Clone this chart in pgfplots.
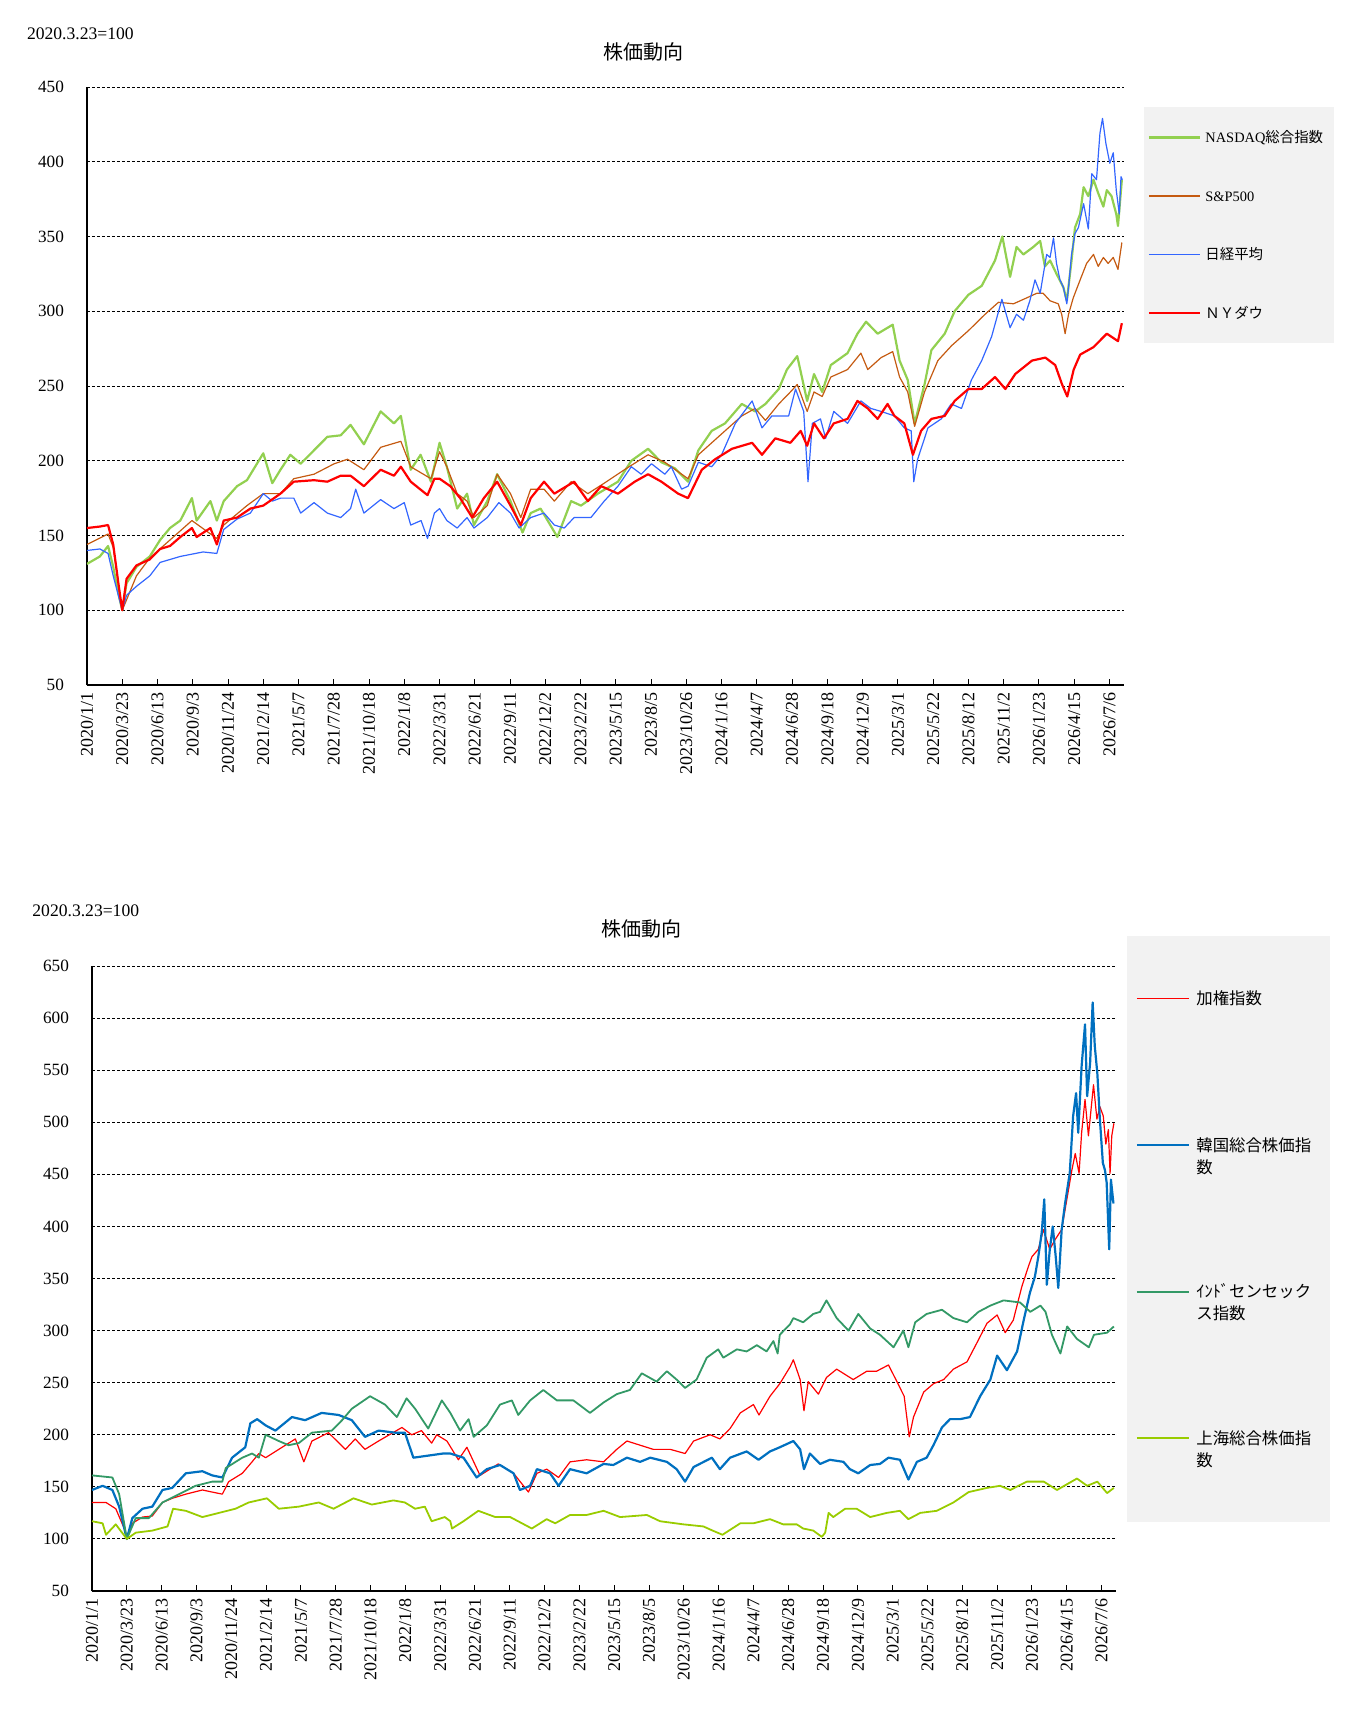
\documentclass[border=0pt]{standalone}
\usepackage{fontspec}
\setmainfont{Liberation Serif}
\newfontfamily\cjk{Noto Sans CJK JP}
\usepackage{pgfplots}
\pgfplotsset{compat=1.18}
\definecolor{cNas}{HTML}{92D050}
\definecolor{cSP}{HTML}{C55A11}
\definecolor{cNik}{HTML}{3366FF}
\definecolor{cDow}{HTML}{FF0000}
\definecolor{cTw}{HTML}{FF0000}
\definecolor{cKr}{HTML}{0070C0}
\definecolor{cIn}{HTML}{339966}
\definecolor{cSh}{HTML}{99CC00}
\definecolor{legbg}{HTML}{F2F2F2}
\pgfplotsset{
  stockax/.style={
    scale only axis,
    xmin=0, xmax=2412,
    enlargelimits=false,
    axis lines*=left,
    axis line style={-, black, line width=0.75pt},
    tick align=inside,
    major tick length=3pt,
    ytick style={draw=none},
    xtick style={black, line width=0.5pt},
    xtick={0,82,...,2378},
    xticklabels={2020/1/1,2020/3/23,2020/6/13,2020/9/3,2020/11/24,2021/2/14,2021/5/7,2021/7/28,2021/10/18,2022/1/8,2022/3/31,2022/6/21,2022/9/11,2022/12/2,2023/2/22,2023/5/15,2023/8/5,2023/10/26,2024/1/16,2024/4/7,2024/6/28,2024/9/18,2024/12/9,2025/3/1,2025/5/22,2025/8/12,2025/11/2,2026/1/23,2026/4/15,2026/7/6},
    xticklabel style={rotate=90, anchor=east, font=\fontsize{9}{10}\selectfont},
    yticklabel style={xshift=-8pt, font=\fontsize{8.6}{10}\selectfont},
    /pgf/number format/assume math mode=true,
    ymajorgrids,
    grid style={black, line width=0.5pt, dash pattern=on 1.5pt off 1pt},
    no markers,
    every axis plot/.append style={line join=round},
  }
}
\begin{document}
\begin{tikzpicture}[x=1pt,y=1pt]
\path[use as bounding box] (0,0) rectangle (679,-864.5);
\fill[legbg] (572,-53.5) rectangle (667,-171.5);
\fill[legbg] (563.5,-468) rectangle (665,-761);
\node[anchor=west, inner sep=0pt, font=\fontsize{8.8}{10}\selectfont] at (13.3,-17) {2020.3.23=100};
\node[inner sep=0pt, font=\cjk\fontsize{10}{12}\selectfont] at (321.5,-26) {株価動向};
\node[anchor=west, inner sep=0pt, font=\fontsize{8.8}{10}\selectfont] at (16,-455.3) {2020.3.23=100};
\node[inner sep=0pt, font=\cjk\fontsize{10}{12}\selectfont] at (320.5,-464.5) {株価動向};

% ---------------- top chart ----------------
\begin{axis}[stockax,
  at={(43.5pt,-342.5pt)}, anchor=south west,
  width=518.5pt, height=299pt,
  ymin=50, ymax=450, ytick={50,100,...,450},
  legend style={at={(1.0226,0.9372)}, anchor=north west, draw=none, fill=none,
    inner sep=0pt, row sep=16.7pt, column sep=0.2pt,
    font=\fontsize{7.2}{10}\selectfont,
    cells={anchor=base west, inner sep=0pt}},
  legend image code/.code={\draw[#1] (0pt,2.7pt) -- (25.5pt,2.7pt);},
]
\addplot[cNas, line width=1.1pt] coordinates {
(0,131)(30,136)(49,143)(61,129)(73,111)(82,100)(92,118)(115,129)(146,136)(170,147)(193,155)(217,160)(244,175)(255,160)(287,173)(302,160)(318,173)(349,183)(372,187)(410,205)(431,185)(450,194)(473,204)(497,198)(528,207)(559,216)(590,217)(613,224)(644,211)(683,233)(714,225)(730,230)(753,194)(776,204)(800,186)(820,212)
(837,196)(861,168)(884,178)(900,157)(931,173)(954,191)(985,173)(1013,152)(1032,165)(1055,168)(1094,149)(1126,173)(1149,170)(1188,178)(1235,186)(1266,200)(1305,208)(1336,199)(1367,195)(1398,186)(1422,207)(1453,220)(1484,225)(1523,238)(1554,233)(1578,238)(1609,248)
(1628,261)(1652,270)(1675,240)(1691,258)(1710,246)(1730,264)(1769,272)(1792,285)(1812,293)(1839,285)(1874,291)(1890,267)(1909,254)(1925,225)(1948,251)(1964,274)(1995,285)(2018,300)(2050,311)(2081,317)(2112,334)(2129,350)(2147,323)(2162,343)(2178,338)(2201,343)(2217,347)(2228,330)(2240,334)(2255,325)(2271,316)(2279,307)(2290,334)(2298,356)(2310,365)(2318,383)(2329,377)(2341,388)(2352,379)(2364,370)(2372,381)(2383,377)(2394,365)(2398,357)(2407,388)
};
\addlegendentry{\strut NASDAQ{\cjk 総合指数}}
\addplot[cSP, line width=0.6pt] coordinates {
(0,144)(49,151)(61,142)(82,100)(115,123)(146,135)(193,147)(244,160)(302,148)(318,157)(372,170)(410,178)(450,178)(481,188)(528,191)(575,198)(606,201)(644,194)(683,209)(730,213)(753,196)(800,188)(820,206)
(837,196)(861,178)(884,173)(900,162)(931,170)(954,191)(985,178)(1009,162)(1032,181)(1063,181)(1087,173)(1126,186)(1165,178)(1203,185)(1250,194)(1305,204)(1344,199)(1398,188)(1422,204)(1453,212)(1484,220)(1523,230)(1554,235)(1578,227)(1609,238)(1636,246)
(1652,251)(1675,233)(1691,246)(1710,243)(1730,256)(1769,261)(1800,272)(1816,261)(1847,269)(1874,273)(1890,256)(1909,246)(1925,223)(1948,246)(1979,267)(2011,277)(2050,287)(2089,298)(2120,306)(2155,305)(2186,309)(2209,312)(2224,312)(2240,307)(2259,305)(2267,298)(2275,285)(2283,298)(2294,309)(2310,321)(2325,332)(2341,338)(2352,330)(2364,336)(2375,332)(2387,336)(2398,328)(2407,346)
};
\addlegendentry{\strut S\&P500}
\addplot[cNik, line width=0.6pt] coordinates {
(0,140)(30,141)(49,138)(61,123)(82,100)(92,110)(115,116)(146,123)(170,132)(217,136)(270,139)(302,138)(318,154)(349,161)(380,165)(410,178)(431,173)(450,175)(481,175)(497,165)(528,172)(559,165)(590,162)(613,168)(625,181)(644,165)(683,174)(714,168)(738,172)(753,157)(777,160)(792,148)(808,165)(820,168)
(837,160)(861,155)(884,162)(900,155)(931,162)(958,172)(985,165)(1005,155)(1032,162)(1063,165)(1087,157)(1110,155)(1133,162)(1172,162)(1203,173)(1235,183)(1266,196)(1289,191)(1313,198)(1344,191)(1359,196)(1383,181)(1398,183)(1422,199)(1453,196)(1476,204)(1508,225)(1547,240)(1570,222)(1593,230)(1632,230)
(1648,248)(1667,233)(1677,186)(1687,225)(1706,228)(1718,215)(1737,233)(1769,225)(1800,240)(1823,235)(1847,233)(1878,230)(1901,222)(1917,220)(1923,186)(1932,201)(1956,222)(1987,228)(2010,238)(2034,235)(2057,254)(2081,267)(2104,283)(2128,308)(2147,289)(2162,298)(2178,294)(2193,307)(2205,321)(2217,312)(2232,338)(2240,336)(2248,349)(2255,332)(2263,321)(2271,316)(2279,305)(2283,316)(2290,338)(2298,352)(2306,356)(2318,372)(2329,355)(2337,392)(2348,388)(2356,419)(2362,429)(2370,412)(2379,399)(2387,406)(2394,381)(2401,365)(2405,390)(2408,388)
};
\addlegendentry{\strut {\cjk 日経平均}}
\addplot[cDow, line width=1.1pt] coordinates {
(0,155)(30,156)(49,157)(61,144)(73,118)(82,100)(92,121)(115,130)(146,134)(170,141)(193,143)(217,149)(244,155)(255,149)(287,155)(302,144)(318,160)(349,162)(380,168)(410,170)(450,178)(481,186)(528,187)(559,186)(590,190)(613,190)(644,183)(683,194)(714,190)(730,196)(753,186)(792,177)(808,188)(820,188)
(845,183)(868,175)(896,162)(923,175)(954,186)(985,170)(1009,157)(1032,175)(1063,186)(1087,178)(1133,186)(1165,173)(1196,183)(1235,178)(1274,186)(1305,191)(1336,186)(1375,178)(1398,175)(1430,194)(1461,201)(1500,208)(1547,212)(1570,204)(1601,215)(1636,212)
(1660,220)(1675,210)(1691,225)(1714,215)(1737,225)(1769,228)(1792,240)(1816,235)(1839,228)(1862,238)(1878,230)(1901,225)(1921,204)(1940,220)(1964,228)(1995,230)(2018,240)(2050,248)(2081,248)(2112,256)(2136,248)(2159,258)(2198,267)(2229,269)(2252,264)(2268,251)(2280,243)(2295,261)(2310,271)(2341,276)(2372,285)(2398,280)(2407,292)
};
\addlegendentry{\strut {\cjk ＮＹダウ}}
\end{axis}

% ---------------- bottom chart ----------------
\begin{axis}[stockax,
  at={(46pt,-795.5pt)}, anchor=south west,
  width=512pt, height=312.5pt,
  ymin=50, ymax=650, ytick={50,100,...,650},
  legend style={at={(1.0189,0.9696)}, anchor=north west, draw=none, fill=none,
    inner sep=0pt, row sep=60pt, column sep=1.2pt,
    font=\cjk\fontsize{8.2}{11}\selectfont,
    cells={anchor=base west, inner sep=0pt}},
  legend image code/.code={\draw[#1] (0pt,3pt) -- (26pt,3pt);},
]
\addplot[cTw, line width=0.6pt] coordinates {
(0,135)(33,135)(56,129)(76,110)(82,100)(95,115)(119,121)(142,122)(166,135)(189,139)(221,143)(260,147)(283,145)(307,143)(322,155)(354,163)(377,174)(393,182)(409,178)(440,186)(479,196)(499,174)(518,194)(557,202)(597,186)(620,196)(643,186)(675,194)(730,207)(753,200)(776,204)(800,192)(812,200)(836,194)(863,176)(883,188)(914,161)(957,172)(993,163)(1028,145)(1048,163)(1071,167)(1099,159)(1126,174)(1165,176)(1205,174)(1236,186)(1260,194)(1291,190)(1322,186)(1362,186)(1397,182)(1417,194)(1456,200)(1479,196)(1503,206)(1527,221)(1558,229)(1571,219)(1597,237)(1620,249)(1644,265)(1652,272)(1668,253)(1677,223)(1687,251)(1711,239)(1730,255)(1754,263)(1793,253)(1825,261)(1848,261)(1876,267)(1896,251)(1913,237)(1925,198)(1935,217)(1959,241)(1982,249)(2006,253)(2029,263)(2061,270)(2084,288)(2108,307)(2132,315)(2151,298)(2170,310)(2190,342)(2206,362)(2214,371)(2229,378)(2241,397)(2256,378)(2268,387)(2284,397)(2292,416)(2300,435)(2308,454)(2316,470)(2325,451)(2331,490)(2339,522)(2347,487)(2359,536)(2367,503)(2374,515)(2382,506)(2388,479)(2394,493)(2398,451)(2402,487)(2407,499)
};
\addlegendentry{\vtop{\hbox{\strut 加権指数}\hbox{\strut}}}
\addplot[cKr, line width=1.1pt] coordinates {
(0,147)(25,151)(48,147)(64,131)(82,100)(95,120)(119,129)(142,131)(166,147)(189,149)(221,163)(260,165)(283,161)(307,159)(330,178)(361,188)(373,211)(389,215)(409,209)(432,204)(471,217)(502,214)(541,221)(581,219)(612,214)(643,198)(675,204)(714,202)(737,202)(757,178)(792,180)(827,182)(844,182)(875,178)(906,159)(930,167)(961,171)(993,163)(1008,147)(1032,151)(1048,167)(1079,163)(1099,151)(1126,167)(1165,163)(1205,172)(1228,171)(1260,178)(1291,174)(1315,178)(1354,174)(1377,167)(1397,155)(1417,169)(1460,178)(1479,167)(1503,178)(1542,184)(1570,176)(1597,184)(1620,188)(1652,194)(1668,186)(1677,167)(1691,182)(1715,172)(1738,176)(1770,174)(1785,167)(1805,163)(1833,171)(1856,172)(1876,178)(1903,176)(1923,157)(1943,174)(1966,178)(1982,190)(2002,207)(2021,215)(2045,215)(2068,217)(2092,237)(2116,253)(2132,276)(2155,262)(2179,280)(2194,309)(2209,336)(2221,352)(2229,371)(2237,394)(2243,426)(2249,344)(2256,378)(2263,400)(2270,371)(2276,341)(2284,397)(2292,422)(2303,451)(2311,506)(2318,528)(2323,490)(2331,554)(2339,594)(2344,525)(2351,557)(2357,615)(2362,573)(2368,547)(2374,503)(2381,461)(2386,454)(2390,442)(2396,378)(2400,445)(2406,422)
};
\addlegendentry{\vtop{\hbox{\strut 韓国総合株価指}\hbox{\strut 数}}}
\addplot[cIn, line width=0.9pt] coordinates {
(0,161)(48,159)(64,143)(82,100)(103,120)(134,120)(166,135)(205,143)(244,151)(283,155)(307,155)(315,168)(354,178)(377,182)(393,178)(409,200)(440,194)(463,190)(487,192)(518,202)(565,204)(589,214)(612,225)(655,237)(690,229)(718,217)(741,235)(761,225)(792,206)(824,233)(844,221)(867,204)(887,215)(899,198)(930,209)(961,229)(989,233)(1004,219)(1032,233)(1063,243)(1095,233)(1134,233)(1173,221)(1205,231)(1236,239)(1267,243)(1295,259)(1330,251)(1354,261)(1377,253)(1397,245)(1424,253)(1448,274)(1475,282)(1487,274)(1519,282)(1542,280)(1566,286)(1589,280)(1605,290)(1615,278)(1620,296)(1644,306)(1652,312)(1675,308)(1699,316)(1715,318)(1730,329)(1754,312)(1782,300)(1805,316)(1833,302)(1856,296)(1888,284)(1911,300)(1923,284)(1939,308)(1966,316)(2002,320)(2029,312)(2061,308)(2088,318)(2116,324)(2147,329)(2186,327)(2210,318)(2234,324)(2246,318)(2261,296)(2281,278)(2297,304)(2320,292)(2348,284)(2360,296)(2391,298)(2407,304)
};
\addlegendentry{\vtop{\hbox{\strut ｲﾝﾄﾞセンセック}\hbox{\strut ス指数}}}
\addplot[cSh, line width=0.9pt] coordinates {
(0,117)(25,115)(33,104)(56,114)(82,100)(103,106)(142,108)(178,112)(191,129)(221,127)(260,121)(299,125)(338,129)(369,135)(412,139)(440,129)(487,131)(534,135)(569,129)(616,139)(659,133)(710,137)(737,135)(761,129)(784,131)(800,117)(831,121)(844,117)(848,110)(875,117)(910,127)(950,121)(985,121)(1036,110)(1071,119)(1091,115)(1126,123)(1165,123)(1205,127)(1244,121)(1307,123)(1338,117)(1393,114)(1440,112)(1462,108)(1485,104)(1527,115)(1558,115)(1597,119)(1628,114)(1660,114)(1675,110)(1699,108)(1719,102)(1727,106)(1735,125)(1746,121)(1774,129)(1801,129)(1833,121)(1872,125)(1903,127)(1923,119)(1951,125)(1990,127)(2029,135)(2065,145)(2108,149)(2139,151)(2163,147)(2202,155)(2242,155)(2273,147)(2320,158)(2344,151)(2368,155)(2391,144)(2407,149)
};
\addlegendentry{\vtop{\hbox{\strut 上海総合株価指}\hbox{\strut 数}}}
\end{axis}
\end{tikzpicture}
\end{document}
